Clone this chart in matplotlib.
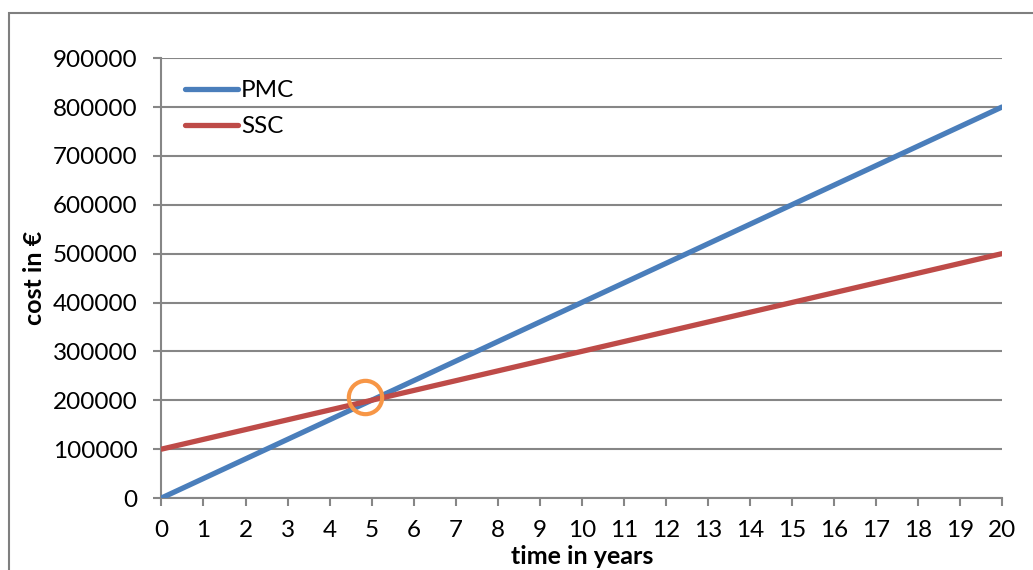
import matplotlib.pyplot as plt
from matplotlib.patches import Rectangle

plt.rcParams['font.family'] = ['Lato', 'DejaVu Sans']

# Cost development over time
years = list(range(0, 21))
pmc = [0, 40000, 80000, 120000, 160000, 200000, 240000, 280000, 320000, 360000,
       400000, 440000, 480000, 520000, 560000, 600000, 640000, 680000, 720000, 760000, 800000]
ssc = [100000, 120000, 140000, 160000, 180000, 200000, 220000, 240000, 260000, 280000,
       300000, 320000, 340000, 360000, 380000, 400000, 420000, 440000, 460000, 480000, 500000]

# break-even mark
break_even_year = [4.84]
break_even_cost = [206600]

y_ticks = [0, 100000, 200000, 300000, 400000, 500000, 600000, 700000, 800000, 900000]

grid_col = '#868686'

fig = plt.figure(figsize=(10.33, 5.70), dpi=100)
ax = fig.add_axes([0.1563, 0.1263, 0.8137, 0.7717])

# outer chart frame
fig.patches.append(Rectangle((9 / 1033, -0.1), 1.2, (570 - 13) / 570 + 0.1,
                             transform=fig.transFigure, fill=False,
                             edgecolor='#7f7f7f', linewidth=1.5))

ax.plot(years, pmc, color='#4A7EBB', linewidth=3.8, solid_capstyle='round', label='PMC', zorder=3)
ax.plot(years, ssc, color='#BE4B48', linewidth=3.8, solid_capstyle='round', label='SSC', zorder=3)
ax.plot(break_even_year, break_even_cost, 'o', markersize=24, fillstyle='none',
        markeredgewidth=3, color='#F79646', zorder=4)

ax.set_xlim(0, 20)
ax.set_ylim(0, 900000)
ax.set_xticks(years)
ax.set_yticks(y_ticks)
ax.set_yticklabels([str(v) for v in y_ticks])

ax.grid(axis='y', color=grid_col, linewidth=1.5)
ax.set_axisbelow(True)
for side in ['top', 'right']:
    ax.spines[side].set_visible(False)
for side in ['left', 'bottom']:
    ax.spines[side].set_color(grid_col)
    ax.spines[side].set_linewidth(1.5)

ax.tick_params(axis='both', colors=grid_col, labelcolor='black', labelsize=17.5,
               length=6, width=1.5, direction='out')
ax.tick_params(axis='y', pad=11)
ax.tick_params(axis='x', pad=10)

ax.set_ylabel('cost in €', fontsize=18, fontweight='bold', labelpad=5)
ax.set_xlabel('time in years', fontsize=18, fontweight='bold', labelpad=3)

ax.legend(loc='upper left', bbox_to_anchor=(0.028, 0.95), frameon=False,
          fontsize=17.5, handlelength=2.2, handletextpad=0.1, labelspacing=0.62,
          borderpad=0, borderaxespad=0)

fig.savefig('out.png', dpi=100)
